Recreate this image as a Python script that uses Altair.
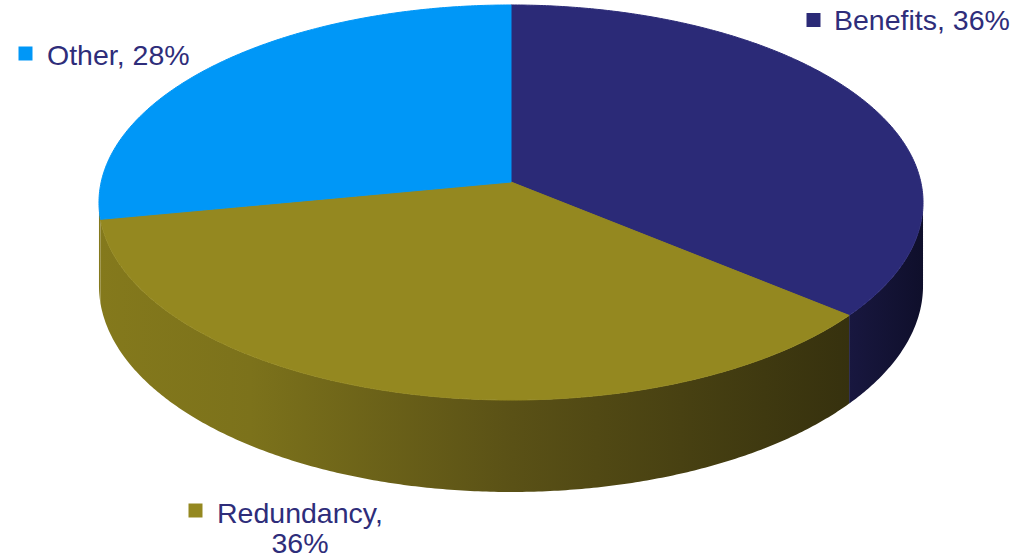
import numpy as np
import pandas as pd
import altair as alt

# ---- chart data ----
categories = ["Benefits", "Redundancy", "Other"]
shares = [36, 36, 28]
top_colors = ["#2B2A77", "#948820", "#0097F7"]
label_texts = ["Benefits, 36%", "Redundancy,", "36%", "Other, 28%"]

# ---- layout / 3-D projection constants ----
W, H = 1033, 558
CX, CY = 511, 182          # projected pie centre
A, B, K = 409.8, 195.4, 0.1038   # horizontal radius, vertical radius, perspective factor
DEPTH = 82.4               # thickness of the pie
STEP = 0.5                 # angular resolution (deg)


def project(theta_deg, drop=0.0):
    t = np.radians(theta_deg)
    w = 1 + K * np.cos(t)
    return CX + A * np.sin(t) / w, CY - B * np.cos(t) / w + drop / w


# cumulative angles of the slices (clockwise from 12 o'clock)
ends = np.cumsum(shares) / sum(shares) * 360.0
starts = np.concatenate([[0.0], ends[:-1]])

# visible part of the cylinder side
vis_lo = np.degrees(np.arccos(-K))
vis_hi = 360 - vis_lo

rows = []
for cat, a0, a1 in zip(categories, starts, ends):
    # top face
    th = np.arange(a0, a1 + 1e-9, STEP)
    if th[-1] < a1:
        th = np.append(th, a1)
    xs, ys = project(th)
    pts = [(CX, CY)] + list(zip(xs, ys)) + [(CX, CY)]
    for i, (x, y) in enumerate(pts):
        rows.append({"shape": "top", "cat": cat, "i": i, "x": x, "y": y})
    # side face
    s0, s1 = max(a0, vis_lo), min(a1, vis_hi)
    if s1 > s0:
        th = np.arange(s0, s1 + 1e-9, STEP)
        if th[-1] < s1:
            th = np.append(th, s1)
        xt, yt = project(th)
        xb, yb = project(th[::-1], DEPTH)
        pts = list(zip(xt, yt)) + list(zip(xb, yb))
        pts.append(pts[0])
        for i, (x, y) in enumerate(pts):
            rows.append({"shape": "side", "cat": cat, "i": i, "x": x, "y": y})

geo = pd.DataFrame(rows)

xscale = alt.Scale(domain=[0, W], nice=False, zero=False)
yscale = alt.Scale(domain=[H, 0], nice=False, zero=False)
X = alt.X("x:Q", scale=xscale, axis=None)
Y = alt.Y("y:Q", scale=yscale, axis=None)

base = alt.Chart(geo)


def side_layer(cat, stops):
    return base.transform_filter(
        (alt.datum.shape == "side") & (alt.datum.cat == cat)
    ).mark_line(
        filled=True,
        fill=alt.Gradient(gradient="linear", x1=0, x2=1, y1=0, y2=0,
                          stops=[alt.GradientStop(offset=o, color=c) for o, c in stops]),
        strokeWidth=0,
    ).encode(x=X, y=Y, order=alt.Order("i:Q"))


side_red = side_layer("Redundancy", [(0, "#84791c"), (0.2, "#7c721b"),
                                     (0.55, "#5a5116"), (1, "#36310e")])
side_ben = side_layer("Benefits", [(0, "#18173f"), (1, "#0f0f2b")])
side_oth = side_layer("Other", [(0, "#84791c"), (1, "#84791c")])

tops = base.transform_filter(alt.datum.shape == "top").mark_line(
    filled=True, strokeWidth=1
).encode(
    x=X, y=Y,
    order=alt.Order("i:Q"),
    detail="cat:N",
    fill=alt.Fill("cat:N", scale=alt.Scale(domain=categories, range=top_colors), legend=None),
    stroke=alt.Stroke("cat:N", scale=alt.Scale(domain=categories, range=top_colors), legend=None),
)

# ---- labels ----
markers = pd.DataFrame({
    "cat": categories,
    "x": [813.5, 195.5, 25.5],
    "y": [20.0, 510.5, 53.5],
})
marker_layer = alt.Chart(markers).mark_square(size=196, opacity=1, filled=True).encode(
    x=X, y=Y,
    color=alt.Color("cat:N", scale=alt.Scale(domain=categories, range=top_colors), legend=None),
)

labels = pd.DataFrame({
    "text": label_texts,
    "x": [834, 217, 300, 47],
    "y": [30, 523, 553, 65],
    "align": ["left", "left", "center", "left"],
})
text_left = alt.Chart(labels).transform_filter(alt.datum.align == "left").mark_text(
    align="left", baseline="alphabetic", font="Liberation Sans", fontSize=28.5, color="#2E2D7A"
).encode(x=X, y=Y, text="text:N")
text_center = alt.Chart(labels).transform_filter(alt.datum.align == "center").mark_text(
    align="center", baseline="alphabetic", font="Liberation Sans", fontSize=28.5, color="#2E2D7A"
).encode(x=X, y=Y, text="text:N")

chart = alt.layer(
    side_red, side_ben, side_oth, tops, marker_layer, text_left, text_center
).properties(
    width=W, height=H, autosize=alt.AutoSizeParams(type="none"), padding=0,
    background="white",
).configure_view(stroke=None)

chart.save("out.html", embed_options={"renderer": "svg", "actions": False})
